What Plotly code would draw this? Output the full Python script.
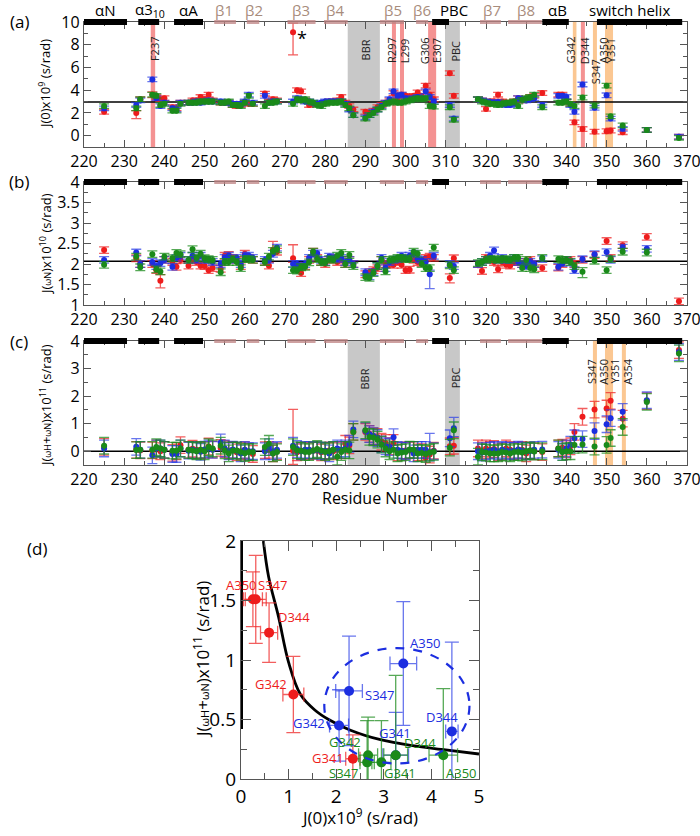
import plotly.graph_objects as go

W, H = 700, 836
FONT = 'Open Sans, sans-serif'

RED, BLUE, GREEN = '#ee1c1c', '#1c2ee0', '#1a8a1a'
ERR = {'red': 'rgba(238,40,40,0.75)', 'blue': 'rgba(40,60,230,0.7)', 'green': 'rgba(30,140,30,0.75)'}
COL = {'red': RED, 'blue': BLUE, 'green': GREEN}

# ---------------- data: residues for panels a-c ----------------
residues = [225, 233, 234, 237, 238, 239, 240, 242, 243, 244,
            246, 247, 248, 249, 250, 251, 252, 254, 255, 256,
            257, 258, 259, 260, 261, 262, 265, 266, 267, 268,
            272, 273, 274, 275, 276, 277, 278, 279, 280, 281,
            282, 283, 284, 285, 286, 287, 290, 291, 292, 293,
            294, 295, 296, 297, 298, 299, 300, 301, 302, 303,
            304, 305, 306, 307, 311, 312, 318, 319, 320, 321,
            322, 323, 324, 325, 326, 327, 328, 329, 330, 331,
            332, 334, 338, 339, 340, 341, 342, 344, 347, 350,
            351, 354, 360, 368]

# J(0) x 1e9
j0_red = [2.1, 2.0, 3.2, 3.6, 3.4, 3.2, 3.3, 2.5, 2.4, 2.9,
          2.9, 3.1, 3.1, 3.4, 3.2, 3.6, 3.1, 2.9, 2.9, 2.9,
          2.7, 2.6, 2.7, 2.9, 2.8, 2.8, 3.7, 3.0, 3.2, 3.1,
          9.1, 4.0, 3.9, 3.1, 2.7, 2.8, 2.8, 2.8, 2.9, 3.0,
          3.0, 3.1, 3.4, 2.9, 2.6, 2.3, 2.1, 2.0, 2.2, 2.5,
          2.7, 2.9, 3.1, 3.75, 3.3, 3.6, 3.5, 3.4, 3.5, 3.8,
          3.5, 4.4, 3.6, 3.2, 5.5, 3.5, 3.2, 3.1, 2.35, 3.0,
          3.0, 3.6, 3.0, 2.9, 2.9, 3.0, 3.3, 3.1, 3.2, 3.4,
          3.5, 3.75, 3.6, 3.6, 3.0, 2.8, 1.17, 0.58, 0.35, 0.39,
          0.45, 0.3, 0.5, -0.1]
j0_blue = [2.4, 2.7, 3.1, 4.95, 3.3, 2.6, 2.9, 2.4, 2.3, 2.9,
           2.9, 2.9, 3.0, 2.9, 3.0, 3.1, 3.0, 3.0, 2.9, 2.9,
           2.8, 2.8, 2.8, 3.0, 3.6, 2.9, 3.5, 2.9, 3.0, 3.0,
           3.0, 3.3, 3.2, 3.0, 3.0, 2.9, 2.8, 2.9, 3.0, 3.0,
           3.0, 3.0, 3.0, 2.8, 2.3, 1.8, 1.6, 1.8, 2.1, 2.3,
           2.6, 2.9, 3.2, 3.9, 3.5, 3.6, 3.3, 3.2, 3.3, 3.4,
           3.3, 3.9, 3.4, 3.0, 2.7, 1.5, 3.2, 3.1, 3.0, 2.95,
           2.9, 2.95, 2.8, 2.7, 2.7, 2.8, 3.3, 3.2, 3.1, 3.2,
           3.3, 2.7, 3.5, 3.5, 3.4, 2.7, 2.1, 4.5, 2.45, 3.55,
           1.5, 0.6, 0.5, -0.1]
j0_green = [2.6, 2.4, 3.2, 3.6, 3.5, 2.7, 2.8, 2.2, 2.2, 2.8,
            2.9, 2.9, 2.9, 3.0, 3.0, 3.0, 3.0, 2.9, 2.9, 3.0,
            2.7, 2.7, 2.6, 2.9, 3.5, 2.8, 2.6, 2.9, 2.9, 3.0,
            2.8, 3.2, 3.1, 3.2, 3.0, 2.9, 2.7, 2.6, 2.8, 2.9,
            2.9, 2.9, 3.0, 2.7, 2.4, 1.8, 1.5, 1.8, 2.0, 2.3,
            2.5, 2.8, 2.9, 3.0, 2.9, 2.9, 3.0, 3.1, 3.2, 3.3,
            3.2, 3.3, 2.6, 2.55, 2.5, 1.4, 3.2, 3.0, 2.9, 2.8,
            2.8, 2.7, 2.8, 2.9, 2.9, 3.0, 2.6, 3.15, 3.3, 3.4,
            3.6, 2.5, 2.9, 2.9, 3.0, 2.8, 2.6, 3.35, 2.65, 4.4,
            1.7, 0.9, 0.5, -0.2]

# J(wN) x 1e10
jn_red = [2.34, 2.14, 2.0, 2.0, 1.85, 1.59, 2.1, 2.05, 1.93, 2.1,
          1.96, 2.1, 2.05, 1.96, 1.95, 1.85, 1.9, 1.88, 2.2, 2.22,
          2.15, 2.1, 1.95, 2.25, 2.15, 2.1, 2.05, 1.96, 2.35, 2.3,
          2.14, 1.95, 1.78, 1.95, 2.1, 2.3, 2.15, 2.05, 2.0, 2.1,
          2.15, 2.05, 2.1, 2.0, 2.1, 2.0, 1.75, 1.8, 1.85, 1.9,
          2.1, 2.0, 2.0, 1.98, 2.05, 1.98, 1.85, 1.86, 2.1, 2.05,
          2.02, 2.15, 2.18, 2.15, 1.66, 2.14, 2.0, 1.83, 2.15, 2.1,
          2.05, 1.87, 2.05, 1.98, 1.96, 2.05, 2.05, 2.0, 2.05, 2.1,
          2.0, 1.9, 1.91, 2.0, 2.1, 2.1, 2.0, 2.1, 2.22, 2.56,
          2.15, 2.46, 2.66, 1.09]
jn_blue = [2.1, 2.28, 2.0, 2.05, 1.95, 2.02, 2.1, 1.93, 2.15, 2.2,
           2.1, 2.2, 2.1, 2.2, 2.1, 2.1, 2.05, 2.0, 2.15, 2.2,
           2.1, 2.15, 2.0, 2.2, 2.2, 2.15, 2.1, 2.1, 2.25, 2.4,
           2.0, 2.0, 1.95, 2.0, 2.15, 2.25, 2.26, 2.1, 2.05, 2.18,
           2.15, 2.12, 2.15, 2.05, 2.1, 2.0, 1.8, 1.7, 1.8, 1.95,
           2.15, 1.9, 2.05, 2.1, 2.12, 2.2, 2.15, 2.2, 2.25, 2.12,
           2.1, 2.05, 1.75, 2.2, 2.0, 1.95, 2.0, 2.05, 2.1, 2.2,
           2.33, 2.1, 2.15, 2.1, 2.1, 2.15, 2.05, 2.0, 1.95, 2.05,
           2.0, 2.12, 1.93, 2.02, 2.1, 2.04, 1.85, 2.12, 2.24, 2.29,
           2.1, 2.4, 2.37, None]
jn_green = [1.98, 2.18, 1.92, 2.24, 1.87, 1.82, 2.18, 2.14, 2.27, 2.24,
            2.1, 2.36, 2.15, 2.25, 2.14, 2.12, 2.1, 1.8, 2.05, 2.05,
            2.12, 2.05, 1.9, 2.12, 2.12, 2.1, 2.05, 2.18, 2.32, 2.36,
            1.85, 1.84, 1.92, 1.93, 2.04, 2.3, 2.12, 2.05, 2.04, 2.12,
            2.1, 2.2, 2.27, 2.0, 2.22, 1.95, 1.68, 1.66, 1.78, 1.95,
            2.1, 1.82, 2.1, 2.12, 2.15, 2.15, 2.12, 2.12, 2.3, 2.25,
            2.0, 1.9, 1.9, 2.4, 1.97, 1.85, 2.02, 2.05, 2.1, 2.12,
            2.12, 2.1, 2.12, 2.12, 2.1, 2.15, 2.15, 1.9, 2.1, 1.9,
            1.87, 2.15, 2.12, 2.1, 2.1, 2.05, 1.95, 1.81, 2.08, 1.85,
            2.12, 2.3, 2.28, None]

# J(wH+wN) x 1e11
jhn_red = [0.16, 0.05, 0.03, 0.03, 0.1, 0.0, 0.05, -0.06, 0.0, 0.22,
           0.05, 0.09, 0.05, 0.02, 0.05, 0.17, 0.06, 0.12, 0.08, 0.02,
           0.05, -0.04, 0.0, 0.04, -0.02, -0.1, 0.04, 0.05, -0.08, 0.0,
           0.02, -0.04, 0.0, 0.03, 0.0, 0.03, 0.02, -0.04, 0.0, 0.03,
           0.0, 0.05, 0.03, 0.27, 0.21, 0.7, 0.7, 0.63, 0.55, 0.52,
           0.35, 0.3, 0.18, 0.3, -0.04, 0.02, 0.03, 0.03, 0.05, -0.04,
           -0.03, -0.24, -0.12, 0.02, 0.18, 0.2, 0.1, 0.03, 0.1, 0.05,
           0.08, -0.04, 0.0, 0.1, 0.05, 0.0, 0.02, 0.05, -0.08, 0.03,
           0.0, -0.03, 0.1, 0.13, 0.08, 0.18, 0.7, 1.25, 1.51, 1.55,
           1.83, 1.18, 1.82, 3.67]
jhn_blue = [0.1, 0.16, 0.05, -0.15, 0.1, 0.1, 0.05, -0.1, -0.1, 0.1,
            0.02, 0.05, 0.02, -0.02, 0.06, 0.1, 0.05, 0.32, 0.1, 0.0,
            0.06, 0.02, -0.08, 0.05, 0.0, 0.0, 0.0, 0.15, 0.0, 0.05,
            0.2, 0.08, 0.0, 0.05, 0.05, 0.02, 0.05, 0.0, 0.02, -0.08,
            0.05, 0.1, 0.05, 0.1, 0.27, 0.79, 0.73, 0.62, 0.55, 0.48,
            0.25, 0.18, 0.15, 0.51, 0.05, 0.02, 0.0, 0.05, -0.08, 0.05,
            0.05, 0.05, -0.05, 0.0, 0.47, 0.83, 0.0, -0.05, 0.0, 0.02,
            0.05, 0.0, 0.05, 0.02, 0.0, 0.02, 0.06, 0.02, 0.0, 0.01,
            0.05, 0.06, 0.05, -0.02, 0.1, 0.24, 0.47, 0.44, 0.73, 0.98,
            1.2, 1.43, 1.85, 3.6]
jhn_green = [0.2, 0.04, 0.05, 0.05, 0.15, 0.1, 0.05, 0.02, 0.02, 0.1,
             0.05, 0.03, 0.0, 0.05, 0.0, 0.15, 0.1, 0.2, 0.03, -0.08,
             0.02, 0.03, -0.02, -0.07, -0.03, -0.03, 0.15, 0.27, -0.08, -0.03,
             0.15, 0.03, 0.02, -0.03, -0.03, 0.03, 0.08, 0.03, -0.03, 0.0,
             0.05, -0.2, -0.03, 0.05, 0.03, 0.7, 0.76, 0.52, 0.5, 0.42,
             0.24, 0.1, 0.0, 0.05, -0.08, -0.05, -0.03, 0.06, 0.05, -0.08,
             -0.06, -0.1, -0.05, -0.02, 0.13, 0.76, -0.2, -0.03, -0.05, -0.08,
             -0.08, -0.08, -0.03, -0.05, -0.08, -0.03, -0.03, -0.05, 0.0, 0.03,
             -0.01, 0.0, 0.1, -0.03, 0.0, 0.0, 0.23, 0.24, 0.17, 0.23,
             0.48, 0.88, 1.79, 3.55]

# default error sizes and the few larger ones (series, residue, plus, minus)
err_default = {'a': 0.2, 'b': 0.08, 'c': 0.3}
err_extra = {
    'a': [('red', 272, 0.8, 2.0), ('red', 233, 0.2, 0.5), ('red', 237, 0.25, 0.25)],
    'b': [('red', 239, 0.15, 0.17), ('red', 267, 0.2, 0.1), ('red', 272, 0.33, 0.1),
          ('blue', 306, 0.1, 0.35), ('red', 311, 0.1, 0.12), ('green', 344, 0.1, 0.14)],
    'c': [('red', 272, 1.5, 0.5), ('blue', 306, 0.7, 0.3), ('blue', 312, 0.4, 0.3)],
}
ref_line = {'a': 2.95, 'b': 2.07, 'c': 0.0}

# secondary structure along the top of panels a-c
ss_names = ['αN', 'α3<sub>10</sub>', 'αA', 'β1', 'β2', 'β3', 'β4', 'β5', 'β6', 'PBC',
            'β7', 'β8', 'αB', 'switch helix']
ss_start = [220, 233.5, 242.4, 252.4, 260.5, 270.6, 279.7, 293.6, 302.6, 306.6,
            318.5, 325.5, 334.0, 347.6]
ss_end = [230.7, 238.7, 249.6, 257.8, 263.6, 277.6, 285.6, 299.6, 305.6, 310.8,
          323.7, 333.9, 340.6, 368.8]
ss_label_x = [225.1, 236.4, 246.0, 254.8, 262.2, 274.1, 282.4, 296.9, 304.2, 312.0,
              321.5, 330.0, 337.8, 355.8]
ss_helix = [True, True, True, False, False, False, False, False, False, True,
            False, False, True, True]

# shaded regions (label, start, end)
gray_regions = [('BBR', 285.6, 293.6), ('PBC', 309.8, 313.5)]
bands_a = [('red', 236.6, 237.7), ('red', 296.6, 297.6), ('red', 298.6, 299.6),
           ('red', 305.6, 307.6), ('orange', 341.6, 342.5), ('red', 343.6, 344.6),
           ('orange', 346.6, 347.6), ('orange', 349.6, 351.6)]
bands_c = [('orange', 346.6, 347.6), ('orange', 349.6, 351.6), ('orange', 353.8, 354.8)]
labels_a = [('F237', 237.4, 7.7), ('BBR', 289.9, 7.5), ('R297', 296.5, 7.5), ('L299', 299.8, 7.5),
            ('G306', 304.8, 7.5), ('E307', 307.7, 7.5), ('PBC', 312.3, 7.4), ('G342', 340.9, 7.5),
            ('D344', 344.6, 7.5), ('S347', 347.4, 5.6), ('A350', 349.1, 7.5), ('Y351', 351.0, 7.5)]
labels_c = [('BBR', 289.9, 2.6), ('PBC', 312.3, 2.65), ('S347', 346.3, 2.9),
            ('A350', 349.2, 2.9), ('Y351', 351.9, 2.9), ('A354', 355.2, 2.9)]

# ---------------- data: panel d ----------------
d_red_x = [0.25, 0.31, 0.59, 1.1, 2.35]
d_red_y = [1.51, 1.51, 1.23, 0.71, 0.17]
d_red_xerr = [0.2, 0.22, 0.18, 0.22, 0.15]
d_red_yerr = [0.23, 0.37, 0.25, 0.32, 0.2]
d_blue_x = [3.41, 2.27, 2.06, 3.25, 4.43]
d_blue_y = [0.97, 0.74, 0.45, 0.2, 0.4]
d_blue_xerr = [0.28, 0.28, 0.2, 0.27, 0.13]
d_blue_yerr = [0.52, 0.46, 0.3, 0.36, 0.75]
d_green_x = [2.67, 2.65, 2.95, 3.25, 4.25]
d_green_y = [0.2, 0.14, 0.14, 0.2, 0.2]
d_green_xerr = [0.2, 0.15, 0.2, 0.25, 0.3]
d_green_yerr = [0.32, 0.35, 0.35, 0.67, 0.56]

# label positions in panel d (text, x, y)
d_red_labels = [('A350', 0.0, 1.63), ('S347', 0.67, 1.63), ('D344', 1.12, 1.36),
                ('G342', 0.64, 0.8), ('G341', 1.83, 0.18)]
d_blue_labels = [('A350', 3.87, 1.14), ('S347', 2.9, 0.71), ('G342', 1.43, 0.47),
                 ('G341', 3.24, 0.39), ('D344', 4.22, 0.52)]
d_green_labels = [('G342', 2.18, 0.31), ('S347', 2.15, 0.05), ('G341', 3.34, 0.05),
                  ('D344', 3.76, 0.3), ('A350', 4.64, 0.05)]

# black reference curve
curve_x = [0.47, 0.58, 0.79, 1.0, 1.25, 1.55, 1.84, 2.3, 2.93, 3.6, 4.3, 5.0]
curve_y = [2.0, 1.7, 1.36, 0.98, 0.71, 0.58, 0.5, 0.41, 0.33, 0.28, 0.245, 0.21]
axis_line_x = [0.0, 0.0]
axis_line_y = [0.42, 2.0]
ellipse_box = (1.75, 0.13, 4.8, 1.1)


def px(x):
    return x / W


def py(y):
    return 1 - y / H


series_abc = {
    'a': {'red': j0_red, 'blue': j0_blue, 'green': j0_green},
    'b': {'red': jn_red, 'blue': jn_blue, 'green': jn_green},
    'c': {'red': jhn_red, 'blue': jhn_blue, 'green': jhn_green},
}
axis_id = {'a': '', 'b': '2', 'c': '3'}

fig = go.Figure()

for panel, sers in series_abc.items():
    n = axis_id[panel]
    for name in ['red', 'blue', 'green']:
        vals = sers[name]
        plus = [err_default[panel]] * len(residues)
        minus = [err_default[panel]] * len(residues)
        for s, r, p, m in err_extra[panel]:
            if s == name:
                i = residues.index(r)
                plus[i], minus[i] = p, m
        fig.add_trace(go.Scatter(
            x=residues, y=vals, mode='markers',
            marker=dict(size=6, color=COL[name]),
            error_y=dict(type='data', symmetric=False, array=plus, arrayminus=minus,
                         color=ERR[name], thickness=1.3, width=5),
            xaxis='x' + n, yaxis='y' + n, showlegend=False,
        ))

# panel d
d_sets = [('red', d_red_x, d_red_y, d_red_xerr, d_red_yerr),
          ('blue', d_blue_x, d_blue_y, d_blue_xerr, d_blue_yerr),
          ('green', d_green_x, d_green_y, d_green_xerr, d_green_yerr)]
fig.add_trace(go.Scatter(x=curve_x, y=curve_y, mode='lines', line=dict(color='black', width=2.8, shape='spline'),
                         xaxis='x4', yaxis='y4', showlegend=False))
fig.add_trace(go.Scatter(x=axis_line_x, y=axis_line_y, mode='lines', line=dict(color='black', width=4),
                         xaxis='x4', yaxis='y4', showlegend=False, cliponaxis=False))
for name, xs, ys, xe, ye in d_sets:
    fig.add_trace(go.Scatter(
        x=xs, y=ys, mode='markers',
        marker=dict(size=10, color=COL[name]),
        error_x=dict(type='data', array=xe, color=ERR[name], thickness=1.3, width=7),
        error_y=dict(type='data', array=ye, color=ERR[name], thickness=1.3, width=7),
        xaxis='x4', yaxis='y4', showlegend=False,
    ))

shapes = []
annotations = []

BAND_COL = {'red': 'rgba(240,110,110,0.75)', 'orange': 'rgba(250,175,100,0.7)'}

for panel, bands in [('a', bands_a), ('c', bands_c)]:
    n = axis_id[panel]
    for label, x0, x1 in gray_regions:
        shapes.append(dict(type='rect', xref='x' + n, yref=f'y{n} domain', x0=x0, x1=x1, y0=0, y1=1,
                           fillcolor='#c8c8c8', line_width=0, layer='below'))
    for c, x0, x1 in bands:
        shapes.append(dict(type='rect', xref='x' + n, yref=f'y{n} domain', x0=x0, x1=x1, y0=0, y1=1,
                           fillcolor=BAND_COL[c], line_width=0, layer='below'))

for panel in ['a', 'b', 'c']:
    n = axis_id[panel]
    shapes.append(dict(type='line', xref=f'x{n} domain', yref='y' + n, x0=0, x1=1,
                       y0=ref_line[panel], y1=ref_line[panel], line=dict(color='black', width=1.5),
                       layer='below'))
    for s, e, hx in zip(ss_start, ss_end, ss_helix):
        shapes.append(dict(type='line', xref='x' + n, yref=f'y{n} domain', x0=s, x1=e, y0=1, y1=1,
                           line=dict(color='black' if hx else 'rgba(190,130,130,0.75)', width=6 if hx else 4),
                           layer='above'))

# ellipse in panel d
ex0, ey0, ex1, ey1 = ellipse_box
shapes.append(dict(type='circle', xref='x4', yref='y4', x0=ex0, y0=ey0, x1=ex1, y1=ey1,
                   line=dict(color=BLUE, width=2.2, dash='dash'), layer='above'))


def note(text, x, y, size, color='black', angle=0, xref='paper', yref='paper'):
    return dict(x=x, y=y, xref=xref, yref=yref, text=text, textangle=angle, showarrow=False,
                xanchor='center', yanchor='middle', font=dict(size=size, color=color, family=FONT))


# secondary structure labels above panel a
for name, lx, hx in zip(ss_names, ss_label_x, ss_helix):
    annotations.append(note(name, lx, py(10), 15, 'black' if hx else '#a88c7c', xref='x'))

for lbls, n in [(labels_a, ''), (labels_c, '3')]:
    for text, x, y in lbls:
        annotations.append(note(text, x, y, 11, '#222', -90, 'x' + n, 'y' + n))

annotations.append(note('*', 274.2, 8.6, 18, xref='x', yref='y'))

# panel letters
for t, x, y in [('(a)', 19, 22), ('(b)', 19, 182), ('(c)', 19, 341), ('(d)', 37, 548)]:
    annotations.append(note(t, px(x), py(y), 17))

small = "<span style='font-size:9px'>"
ytitles = [
    ('J(0)x10<sup>9</sup> (s/rad)', 45, 84),
    (f'J({small}ωN</span>)x10<sup>10</sup> (s/rad)', 45, 244),
    (f'J({small}ωH</span>+{small}ωN</span>)x10<sup>11</sup> (s/rad)', 45, 405),
]
for t, x, y in ytitles:
    annotations.append(note(t, px(x), py(y), 13, angle=-90))
annotations.append(note('Residue Number', px(385), py(498), 16))
annotations.append(note("J(<span style='font-size:11px'>ωH</span>+<span style='font-size:11px'>ωN</span>)"
                        "x10<sup>11</sup> (s/rad)", px(201), py(660), 17, angle=-90))
annotations.append(note('J(0)x10<sup>9</sup> (s/rad)', px(360), py(816), 17))

for lbls, name in [(d_red_labels, 'red'), (d_blue_labels, 'blue'), (d_green_labels, 'green')]:
    for t, x, y in lbls:
        annotations.append(note(t, x, y, 13, COL[name], xref='x4', yref='y4'))

AX = dict(showgrid=False, zeroline=False, showline=True, linecolor='#555', linewidth=1.3,
          mirror='ticks', ticks='inside', tickcolor='#555', tickwidth=1.2, automargin=False,
          ticklabeloverflow='allow', tickfont=dict(size=16, color='black', family=FONT))

xdom = [px(84), px(687)]
xres = dict(AX, range=[220, 370], dtick=10, ticklen=7,
            minor=dict(ticks='inside', dtick=5, ticklen=4, tickcolor='#555'))

fig.update_layout(
    width=W, height=H,
    margin=dict(l=0, r=0, t=0, b=0, autoexpand=False),
    paper_bgcolor='white', plot_bgcolor='white',
    font=dict(family=FONT, color='black'),
    showlegend=False,
    xaxis=dict(xres, domain=xdom, anchor='y'),
    yaxis=dict(AX, domain=[py(147), py(22)], range=[-1, 10], dtick=2, ticklen=7, anchor='x',
               minor=dict(ticks='inside', dtick=1, ticklen=4, tickcolor='#555')),
    xaxis2=dict(xres, domain=xdom, anchor='y2'),
    yaxis2=dict(AX, domain=[py(305), py(182)], range=[1, 4], dtick=0.5, ticklen=7, anchor='x2',
                minor=dict(ticks='inside', dtick=0.25, ticklen=4, tickcolor='#555')),
    xaxis3=dict(xres, domain=xdom, anchor='y3'),
    yaxis3=dict(AX, domain=[py(465), py(341)], range=[-0.5, 4], dtick=1, ticklen=7, anchor='x3',
                minor=dict(ticks='inside', dtick=0.5, ticklen=4, tickcolor='#555')),
    xaxis4=dict(AX, domain=[px(241), px(479)], range=[0, 5], dtick=1, ticklen=10, anchor='y4',
                tickfont=dict(size=19, color='black', family=FONT),
                minor=dict(ticks='inside', dtick=0.5, ticklen=6, tickcolor='#555')),
    yaxis4=dict(AX, domain=[py(779), py(541)], range=[0, 2], dtick=0.5, ticklen=10, anchor='x4',
                tickfont=dict(size=19, color='black', family=FONT),
                minor=dict(ticks='inside', dtick=0.25, ticklen=6, tickcolor='#555')),
    shapes=shapes,
    annotations=annotations,
)

# drop the page's default 8px body margin so the figure sits at the window origin
fig.write_html('out.html', config={'displayModeBar': False},
               post_script="document.body.style.margin='0px';")
